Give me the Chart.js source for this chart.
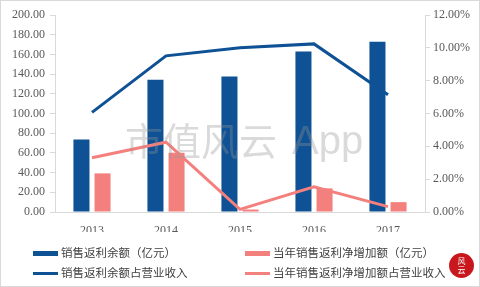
<!DOCTYPE html>
<html>
<head>
<meta charset="utf-8">
<script src="https://cdn.jsdelivr.net/npm/chart.js@4"></script>
<style>
  html, body { margin: 0; padding: 0; background: #fff; }
  #wrap { position: relative; width: 480px; height: 287px; overflow: hidden; }
  #frame { position: absolute; left: 0; top: 0; width: 478px; height: 285px; border: 1px solid #d9d9d9; pointer-events: none; }
  .leg { position: absolute; font: 11.5px "Noto Sans CJK SC", sans-serif; color: #404040; white-space: nowrap; line-height: 14px; }
  .leg i { display: inline-block; width: 25px; vertical-align: middle; margin-right: 3px; }
  #seal { position: absolute; left: 449px; top: 253px; width: 25px; height: 25px; border-radius: 50%; background: #c9171e;
          color: #fff; font: 8px "Noto Sans CJK SC", sans-serif; line-height: 9px; text-align: center; padding-top: 3px; box-sizing: border-box; }
</style>
</head>
<body>
<div id="wrap">
  <canvas id="chart" width="480" height="287"></canvas>
  <div id="legend"></div>
  <div id="seal">风<br>云</div>
  <div id="frame"></div>
</div>
<script>
// 年份
const years = ["2013", "2014", "2015", "2016", "2017"];

// 柱子：亿元
const balance = [73.5, 134.3, 137.5, 163.0, 172.8];
const netIncrease = [39.2, 60.1, 2.5, 24.0, 10.0];

// 折线：占营业收入 (%)
const balanceRatio = [6.07, 9.51, 10.0, 10.24, 7.14];
const increaseRatio = [3.30, 4.25, 0.16, 1.54, 0.33];

const blue = "#0E5194";
const pink = "#F4807E";

// 水印
const watermark = {
  id: "watermark",
  afterDatasetsDraw(chart) {
    const c = chart.ctx;
    c.save();
    c.fillStyle = "rgba(150,150,150,0.35)";
    c.textBaseline = "middle";
    c.font = '38px "Noto Sans CJK SC"';
    c.fillText("市值风云", 125, 141);
    c.font = '40px "Liberation Sans"';
    c.fillText("App", 292, 143);
    c.restore();
  }
};

var ctx = document.getElementById("chart").getContext("2d");
var chart = new Chart(ctx, {
  type: "bar",
  data: {
    labels: years,
    datasets: [
      { label: "销售返利余额（亿元）", data: balance, backgroundColor: blue, yAxisID: "y", order: 2,
        categoryPercentage: 0.57, barPercentage: 0.76 },
      { label: "当年销售返利净增加额（亿元）", data: netIncrease, backgroundColor: pink, yAxisID: "y", order: 2,
        categoryPercentage: 0.57, barPercentage: 0.76 },
      { type: "line", label: "销售返利余额占营业收入", data: balanceRatio, borderColor: blue, borderWidth: 3,
        pointRadius: 0, tension: 0, yAxisID: "y1", order: 1 },
      { type: "line", label: "当年销售返利净增加额占营业收入", data: increaseRatio, borderColor: pink, borderWidth: 3,
        pointRadius: 0, tension: 0, yAxisID: "y1", order: 1 }
    ]
  },
  options: {
    responsive: false,
    animation: false,
    layout: { padding: { top: 15, bottom: 55, left: 0, right: 0 } },
    plugins: { legend: { display: false }, tooltip: { enabled: false } },
    scales: {
      x: {
        grid: { display: false },
        border: { color: "#d9d9d9" },
        ticks: { color: "#595959", font: { family: "Liberation Serif", size: 12 }, padding: 4 },
        afterFit(s) { s.height = 20; }
      },
      y: {
        position: "left",
        min: 0, max: 200,
        ticks: { stepSize: 20, color: "#595959", font: { family: "Liberation Serif", size: 12 }, padding: 5,
          callback: v => v.toFixed(2) },
        grid: { drawOnChartArea: false, tickLength: 5, color: "#d9d9d9" },
        border: { color: "#d9d9d9" },
        afterFit(s) { s.width = 55; }
      },
      y1: {
        position: "right",
        min: 0, max: 12,
        ticks: { stepSize: 2, color: "#595959", font: { family: "Liberation Serif", size: 12 }, padding: 3,
          callback: v => v.toFixed(2) + "%" },
        grid: { drawOnChartArea: false, tickLength: 5, color: "#d9d9d9" },
        border: { color: "#d9d9d9" },
        afterFit(s) { s.width = 55; }
      }
    }
  },
  plugins: [watermark]
});

// 图例，两列
var spots = [[33, 245], [33, 265], [245, 245], [245, 265]];
var order = [0, 2, 1, 3];
var legendEl = document.getElementById("legend");
order.forEach(function (idx, k) {
  var ds = chart.data.datasets[idx];
  var isLine = ds.type === "line";
  var div = document.createElement("div");
  div.className = "leg";
  div.style.left = spots[k][0] + "px";
  div.style.top = spots[k][1] + "px";
  var mark = document.createElement("i");
  mark.style.height = isLine ? "3px" : "5px";
  mark.style.background = isLine ? ds.borderColor : ds.backgroundColor;
  div.appendChild(mark);
  div.appendChild(document.createTextNode(ds.label));
  legendEl.appendChild(div);
});
</script>
</body>
</html>
